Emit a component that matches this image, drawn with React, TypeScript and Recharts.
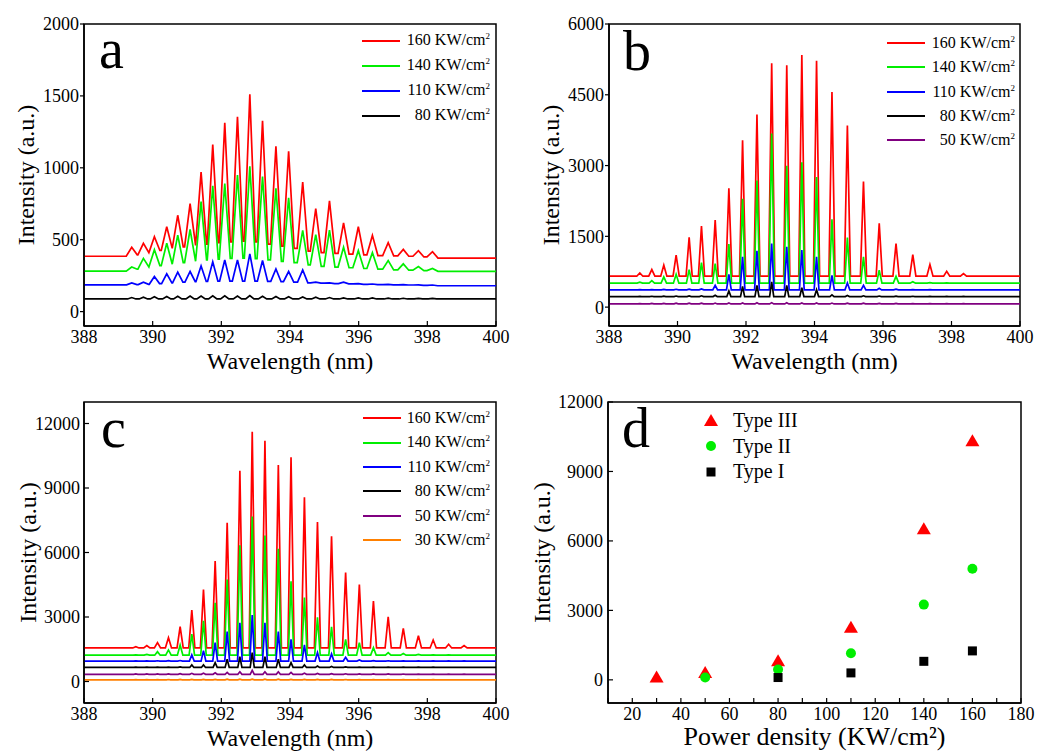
import { Legend, Line, LineChart, ReferenceArea, Scatter, ScatterChart, XAxis, YAxis } from "recharts"

const FONT = "'Liberation Serif', serif"

const WL_MIN = 388
const WL_MAX = 400
const wlTicks = [388, 390, 392, 394, 396, 398, 400]

// ---- panel a: mode peaks (nm) and intensities at each peak / valley levels between them
const aPeakNm = [389.39, 389.73, 390.05, 390.41, 390.73, 391.09, 391.41, 391.75, 392.1, 392.47, 392.83, 393.2, 393.59, 393.96, 394.37, 394.75, 395.15, 395.56, 395.99, 396.4, 396.86, 397.3, 397.74, 398.15]
const a160Peak = [447, 475, 521, 590, 670, 751, 970, 1161, 1313, 1355, 1512, 1327, 1150, 1115, 901, 717, 770, 617, 590, 530, 479, 433, 424, 417]
const a160Valley = [385, 395, 410, 425, 440, 450, 460, 470, 480, 485, 490, 485, 470, 455, 440, 420, 410, 405, 400, 395, 390, 388, 385, 380, 372]
const a140Peak = [310, 370, 430, 475, 532, 571, 765, 875, 890, 950, 1010, 940, 857, 792, 565, 535, 567, 447, 424, 410, 355, 332, 313, 300]
const a140Valley = [282, 295, 310, 320, 330, 340, 350, 360, 365, 370, 372, 368, 360, 350, 340, 325, 315, 310, 305, 300, 295, 290, 288, 285, 280]
const a110Peak = [200, 205, 244, 263, 274, 279, 318, 346, 359, 359, 401, 355, 297, 279, 290, 205, 200, 205, 195, 192, 190, 188, 186, 185]
const a110Valley = [186, 188, 190, 195, 200, 205, 208, 210, 212, 212, 212, 212, 210, 208, 205, 200, 198, 195, 193, 190, 188, 186, 185, 183, 180]
const a80Peak = [98, 100, 103, 105, 106, 108, 108, 110, 110, 108, 112, 106, 105, 104, 102, 100, 98, 96, 95, 95, 94, 93, 92, 92]
const a80Base = 88

// ---- panel b
const bPeakNm = [388.9, 389.25, 389.6, 389.96, 390.34, 390.7, 391.1, 391.5, 391.9, 392.32, 392.75, 393.19, 393.63, 394.06, 394.51, 394.96, 395.43, 395.89, 396.38, 396.87, 397.37, 397.86, 398.35]
const b160Peak = [724, 795, 888, 1100, 1477, 1719, 1847, 2521, 3537, 4084, 5170, 5128, 5341, 5220, 4560, 3850, 2663, 1776, 1349, 1115, 902, 760, 710]
const b140Peak = [530, 560, 639, 696, 795, 945, 923, 1335, 2294, 2685, 3679, 2997, 3068, 2756, 1861, 1477, 1065, 781, 653, 540, 520, 515, 510]
const b110Peak = [370, 372, 375, 378, 380, 385, 462, 696, 1065, 1193, 1349, 1278, 1207, 1065, 675, 511, 462, 400, 380, 372, 370, 368, 366]
const b80Peak = [228, 230, 232, 235, 238, 240, 250, 341, 440, 462, 533, 462, 412, 369, 260, 245, 240, 235, 232, 230, 228, 227, 226]
const b50Peak = [75, 78, 80, 82, 84, 85, 86, 88, 90, 92, 95, 92, 90, 88, 86, 84, 82, 80, 78, 76, 75, 74, 73]
const bBase = { p160: 655, p140: 508, p110: 365, p80: 224, p50: 68 }

// ---- panel c
const cPeakNm = [389.51, 389.83, 390.14, 390.46, 390.8, 391.14, 391.48, 391.82, 392.17, 392.54, 392.9, 393.27, 393.66, 394.03, 394.42, 394.8, 395.21, 395.62, 396.02, 396.43, 396.86, 397.3, 397.74, 398.17, 398.62, 399.07]
const c160Peak = [1622, 1668, 1807, 2039, 2548, 3320, 4278, 5606, 7382, 9807, 11614, 11197, 10069, 10425, 8571, 7413, 6749, 5066, 4510, 3737, 3012, 2471, 2131, 1931, 1730, 1668]
const c140Peak = [1240, 1260, 1390, 1467, 1699, 2208, 2826, 3660, 4741, 6332, 7676, 6795, 6178, 4664, 3907, 2981, 2548, 1961, 1807, 1575, 1344, 1300, 1260, 1240, 1235, 1230]
const c110Peak = [960, 962, 965, 968, 975, 1235, 1436, 1807, 2317, 2734, 3089, 2734, 2317, 1961, 1699, 1344, 1282, 1127, 1000, 970, 965, 962, 960, 958, 956, 955]
const c80Peak = [665, 668, 670, 672, 680, 772, 772, 880, 1035, 1158, 1344, 1158, 1035, 880, 772, 720, 700, 680, 672, 670, 668, 666, 665, 664, 663, 662]
const c50Peak = [350, 352, 355, 358, 365, 380, 390, 400, 420, 450, 520, 450, 450, 420, 390, 375, 365, 360, 355, 352, 350, 348, 346, 345, 344, 343]
const c30Peak = [85, 88, 90, 92, 95, 98, 100, 102, 105, 108, 110, 108, 105, 102, 100, 98, 95, 92, 90, 88, 86, 85, 84, 83, 82, 81]
const cBase = { p160: 1560, p140: 1225, p110: 950, p80: 655, p50: 335, p30: 75 }

// ---- panel d: integrated intensity vs pump power density
const dPower = [30, 50, 80, 110, 140, 160]
const dTypeIII = [100, 300, 800, 2250, 6500, 10300]
const dTypeII = [null, 100, 450, 1150, 3250, 4800]
const dTypeI = [null, null, 100, 300, 800, 1250]
const dTicks = [10, 20, 30, 40, 50, 60, 70, 80, 90, 100, 110, 120, 130, 140, 150, 160, 170, 180]

const COLORS = {
    p160: "#ff0000",
    p140: "#00ee00",
    p110: "#0000ff",
    p80: "#000000",
    p50: "#800080",
    p30: "#ff8000",
}

type Pt = { nm: number; v: number }
type Series = { power: number; color: string; data: Pt[] }

// builds a line table: level between peaks, a spike at every peak
function spectrum(peakNm: number[], peaks: number[], base: number | number[], half: number): Pt[] {
    const lvl = (i: number) => (Array.isArray(base) ? base[i] : base)
    const pts: Pt[] = [{ nm: WL_MIN, v: lvl(0) }]
    peakNm.forEach((p, i) => {
        pts.push({ nm: p - half, v: lvl(i) }, { nm: p, v: peaks[i] }, { nm: p + half, v: lvl(i + 1) })
    })
    pts.push({ nm: WL_MAX, v: lvl(peakNm.length) })
    return pts
}

const aSeries: Series[] = [
    { power: 160, color: COLORS.p160, data: spectrum(aPeakNm, a160Peak, a160Valley, 0.16) },
    { power: 140, color: COLORS.p140, data: spectrum(aPeakNm, a140Peak, a140Valley, 0.16) },
    { power: 110, color: COLORS.p110, data: spectrum(aPeakNm, a110Peak, a110Valley, 0.15) },
    { power: 80, color: COLORS.p80, data: spectrum(aPeakNm, a80Peak, a80Base, 0.12) },
]
const bSeries: Series[] = [
    { power: 160, color: COLORS.p160, data: spectrum(bPeakNm, b160Peak, bBase.p160, 0.09) },
    { power: 140, color: COLORS.p140, data: spectrum(bPeakNm, b140Peak, bBase.p140, 0.08) },
    { power: 110, color: COLORS.p110, data: spectrum(bPeakNm, b110Peak, bBase.p110, 0.07) },
    { power: 80, color: COLORS.p80, data: spectrum(bPeakNm, b80Peak, bBase.p80, 0.06) },
    { power: 50, color: COLORS.p50, data: spectrum(bPeakNm, b50Peak, bBase.p50, 0.06) },
]
const cSeries: Series[] = [
    { power: 160, color: COLORS.p160, data: spectrum(cPeakNm, c160Peak, cBase.p160, 0.09) },
    { power: 140, color: COLORS.p140, data: spectrum(cPeakNm, c140Peak, cBase.p140, 0.08) },
    { power: 110, color: COLORS.p110, data: spectrum(cPeakNm, c110Peak, cBase.p110, 0.07) },
    { power: 80, color: COLORS.p80, data: spectrum(cPeakNm, c80Peak, cBase.p80, 0.06) },
    { power: 50, color: COLORS.p50, data: spectrum(cPeakNm, c50Peak, cBase.p50, 0.06) },
    { power: 30, color: COLORS.p30, data: spectrum(cPeakNm, c30Peak, cBase.p30, 0.06) },
]

const tickFont = { fill: "#000", fontSize: 18, fontFamily: FONT }
const titleFont = { fill: "#000", fontSize: 24, fontFamily: FONT }
const axisLine = { stroke: "#000", strokeWidth: 1.5 }
const tickLine = { stroke: "#000", strokeWidth: 1.2 }

function SpectrumLegend({ series, rowH }: { series: Series[]; rowH: number }) {
    return (
        <div style={{ fontFamily: FONT, fontSize: 16, color: "#000" }}>
            {series.map(s => (
                <div key={s.power} style={{ display: "flex", alignItems: "center", height: rowH }}>
                    <span style={{ width: 38, height: 2, background: s.color, flexShrink: 0 }} />
                    <span style={{ flex: 1, textAlign: "right", whiteSpace: "nowrap" }}>
                        {s.power} KW/cm<sup style={{ fontSize: 9 }}>2</sup>
                    </span>
                </div>
            ))}
        </div>
    )
}

interface PanelProps {
    left: number
    top: number
    width: number
    margin: { top: number; right: number; left: number; bottom: number }
    yWidth: number
    xHeight: number
    yDomain: [number, number]
    yTicks: number[]
    yInward: boolean
    yTitleOffset: number
    xTitleOffset: number
    series: Series[]
    legend: { left: number; top: number; width: number; rowH: number }
}

function SpectrumPanel(p: PanelProps) {
    return (
        <div style={{ position: "absolute", left: p.left, top: p.top }}>
            <LineChart width={p.width} height={376} margin={p.margin}>
                <XAxis
                    type="number"
                    dataKey="nm"
                    domain={[WL_MIN, WL_MAX]}
                    ticks={wlTicks}
                    interval={0}
                    allowDataOverflow
                    height={p.xHeight}
                    tickSize={-5}
                    tickMargin={9}
                    tick={tickFont}
                    axisLine={axisLine}
                    tickLine={tickLine}
                    label={{ value: "Wavelength (nm)", position: "insideBottom", offset: p.xTitleOffset, ...titleFont }}
                />
                <YAxis
                    type="number"
                    domain={p.yDomain}
                    ticks={p.yTicks}
                    interval={0}
                    allowDataOverflow
                    width={p.yWidth}
                    tickSize={p.yInward ? -5 : 4}
                    tickMargin={p.yInward ? 9 : 1}
                    tick={tickFont}
                    axisLine={axisLine}
                    tickLine={tickLine}
                    label={{
                        value: "Intensity (a.u.)",
                        angle: -90,
                        position: "insideLeft",
                        offset: p.yTitleOffset,
                        ...titleFont,
                        style: { textAnchor: "middle" },
                    }}
                />
                {p.series.map(s => (
                    <Line
                        key={s.power}
                        data={s.data}
                        dataKey="v"
                        type="linear"
                        stroke={s.color}
                        strokeWidth={1.7}
                        dot={false}
                        activeDot={false}
                        isAnimationActive={false}
                    />
                ))}
                <ReferenceArea
                    x1={WL_MIN}
                    x2={WL_MAX}
                    y1={p.yDomain[0]}
                    y2={p.yDomain[1]}
                    fill="none"
                    stroke="#000"
                    strokeWidth={1.5}
                    ifOverflow="visible"
                />
                <Legend
                    layout="vertical"
                    align="center"
                    verticalAlign="middle"
                    wrapperStyle={{ left: p.legend.left, top: p.legend.top, width: p.legend.width }}
                    content={() => <SpectrumLegend series={p.series} rowH={p.legend.rowH} />}
                />
            </LineChart>
        </div>
    )
}

function toPoints(values: (number | null)[]) {
    return dPower.flatMap((x, i) => (values[i] == null ? [] : [{ x, y: values[i] as number }]))
}

const triangle = (props: any) => {
    const { cx, cy } = props
    return <polygon points={`${cx - 7},${cy + 5} ${cx + 7},${cy + 5} ${cx},${cy - 7}`} fill="#ff0000" />
}
const circle = (props: any) => <circle cx={props.cx} cy={props.cy} r={5} fill="#00ee00" />
const square = (props: any) => <rect x={props.cx - 4.5} y={props.cy - 4.5} width={9} height={9} fill="#000" />

const renderPowerTick = (props: any) => {
    const { x, y, payload } = props
    if (payload.value % 20 !== 0) return <g />
    return (
        <text x={x} y={y} dy="0.71em" textAnchor="middle" {...tickFont}>
            {payload.value}
        </text>
    )
}

const dLegendItems = [
    { label: "Type III", shape: "triangle" },
    { label: "Type II", shape: "circle" },
    { label: "Type I", shape: "square" },
]

function TypeLegend() {
    return (
        <div style={{ fontFamily: FONT, fontSize: 20, color: "#000" }}>
            {dLegendItems.map(it => (
                <div key={it.label} style={{ display: "flex", alignItems: "center", height: 25.5 }}>
                    <svg width={16} height={16} style={{ flexShrink: 0, marginRight: 14 }}>
                        {it.shape === "triangle" && <polygon points="1,13 15,13 8,1" fill="#ff0000" />}
                        {it.shape === "circle" && <circle cx={8} cy={8} r={5} fill="#00ee00" />}
                        {it.shape === "square" && <rect x={3.5} y={3.5} width={9} height={9} fill="#000" />}
                    </svg>
                    <span>{it.label}</span>
                </div>
            ))}
        </div>
    )
}

function PowerPanel() {
    return (
        <div style={{ position: "absolute", left: 518, top: 376 }}>
            <ScatterChart width={519} height={376} margin={{ top: 26, right: 16, left: 0, bottom: 0 }}>
                <XAxis
                    type="number"
                    dataKey="x"
                    domain={[10, 180]}
                    ticks={dTicks}
                    interval={0}
                    allowDataOverflow
                    height={49}
                    tickSize={-5}
                    tickMargin={9}
                    tick={renderPowerTick}
                    axisLine={axisLine}
                    tickLine={tickLine}
                    label={{ value: "Power density (KW/cm²)", position: "insideBottom", offset: 7, ...titleFont, fontSize: 26 }}
                />
                <YAxis
                    type="number"
                    dataKey="y"
                    domain={[-1000, 12000]}
                    ticks={[0, 3000, 6000, 9000, 12000]}
                    interval={0}
                    allowDataOverflow
                    width={90}
                    tickSize={-5}
                    tickMargin={10}
                    tick={tickFont}
                    axisLine={axisLine}
                    tickLine={tickLine}
                    label={{
                        value: "Intensity (a.u.)",
                        angle: -90,
                        position: "insideLeft",
                        offset: 23,
                        ...titleFont,
                        style: { textAnchor: "middle" },
                    }}
                />
                <Scatter data={toPoints(dTypeIII)} shape={triangle} isAnimationActive={false} />
                <Scatter data={toPoints(dTypeII)} shape={circle} isAnimationActive={false} />
                <Scatter data={toPoints(dTypeI)} shape={square} isAnimationActive={false} />
                <ReferenceArea x1={10} x2={180} y1={-1000} y2={12000} fill="none" stroke="#000" strokeWidth={1.5} ifOverflow="visible" />
                <Legend
                    layout="vertical"
                    align="center"
                    verticalAlign="middle"
                    wrapperStyle={{ left: 185, top: 32, width: 140 }}
                    content={() => <TypeLegend />}
                />
            </ScatterChart>
        </div>
    )
}

const panelLetters = [
    { text: "a", x: 99, y: 68 },
    { text: "b", x: 623, y: 70 },
    { text: "c", x: 101, y: 447 },
    { text: "d", x: 622, y: 447 },
]

export default function App() {
    return (
        <div style={{ position: "absolute", left: 0, top: 0, width: 1037, height: 752, background: "#fff", overflow: "hidden", fontFamily: FONT }}>
            <SpectrumPanel
                left={0}
                top={0}
                width={518}
                margin={{ top: 24, right: 22, left: 0, bottom: 0 }}
                yWidth={84}
                xHeight={50}
                yDomain={[-100, 2000]}
                yTicks={[0, 500, 1000, 1500, 2000]}
                yInward={false}
                yTitleOffset={25}
                xTitleOffset={7}
                series={aSeries}
                legend={{ left: 362, top: 28, width: 128, rowH: 25 }}
            />
            <SpectrumPanel
                left={518}
                top={0}
                width={519}
                margin={{ top: 24, right: 17, left: 0, bottom: 0 }}
                yWidth={91}
                xHeight={50}
                yDomain={[-400, 6000]}
                yTicks={[0, 1500, 3000, 4500, 6000]}
                yInward={false}
                yTitleOffset={32}
                xTitleOffset={7}
                series={bSeries}
                legend={{ left: 369, top: 31, width: 128, rowH: 24.3 }}
            />
            <SpectrumPanel
                left={0}
                top={376}
                width={518}
                margin={{ top: 26, right: 22, left: 0, bottom: 0 }}
                yWidth={84}
                xHeight={49}
                yDomain={[-1000, 13000]}
                yTicks={[0, 3000, 6000, 9000, 12000]}
                yInward={true}
                yTitleOffset={27}
                xTitleOffset={6}
                series={cSeries}
                legend={{ left: 363, top: 30, width: 127, rowH: 24.4 }}
            />
            <PowerPanel />
            <svg width={1037} height={752} style={{ position: "absolute", left: 0, top: 0, pointerEvents: "none" }}>
                {panelLetters.map(l => (
                    <text key={l.text} x={l.x} y={l.y} fontFamily={FONT} fontSize={56} fill="#000">
                        {l.text}
                    </text>
                ))}
            </svg>
        </div>
    )
}
